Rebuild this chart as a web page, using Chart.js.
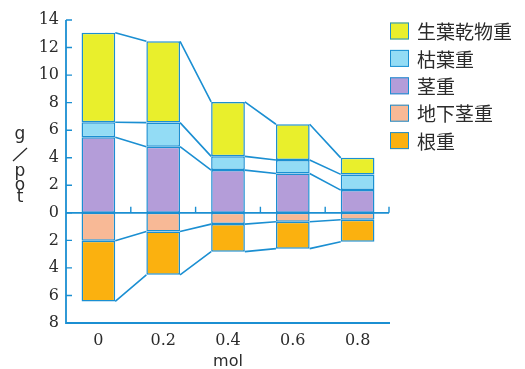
<!DOCTYPE html>
<html>
<head>
<meta charset="utf-8">
<script src="https://cdn.jsdelivr.net/npm/chart.js@4.4.0/dist/chart.umd.min.js"></script>
<style>
  html, body { margin: 0; padding: 0; background: #ffffff; }
  #wrap { width: 525px; height: 369px; position: relative; }
</style>
</head>
<body>
<div id="wrap"><canvas id="c" width="525" height="369"></canvas></div>
<script>
// ---- data ----
const categories = ['0', '0.2', '0.4', '0.6', '0.8'];
const freshLeaf = [6.5, 5.9, 3.95, 2.6, 1.2];      // 生葉乾物重
const deadLeaf  = [1.1, 1.75, 1.0, 0.97, 1.14];    // 枯葉重
const stem      = [5.48, 4.8, 3.1, 2.86, 1.65];    // 茎重
const rhizome   = [-2.03, -1.35, -0.82, -0.65, -0.5]; // 地下茎重
const root      = [-4.4, -3.15, -2.0, -1.95, -1.6];   // 根重
const seriesNames = ['生葉乾物重', '枯葉重', '茎重', '地下茎重', '根重'];
const xTitle = 'mol';
const yTitle = ['g', '/', 'p', 'o', 't'];

const BLUE = '#1b8fd2';
const COLORS = {
  fresh: '#e9ef2c',
  dead: '#93dcf5',
  stem: '#b49dd9',
  rhizome: '#f8b996',
  root: '#fbb10f'
};

function ds(label, data, color) {
  return {
    label, data,
    backgroundColor: color,
    borderColor: BLUE,
    borderWidth: 1.5,
    borderSkipped: false,
    stack: 's',
    barPercentage: 0.52,
    categoryPercentage: 1.0
  };
}

// stacking order: index 0 closest to zero
const datasets = [
  ds(seriesNames[2], stem, COLORS.stem),
  ds(seriesNames[1], deadLeaf, COLORS.dead),
  ds(seriesNames[0], freshLeaf, COLORS.fresh),
  ds(seriesNames[3], rhizome, COLORS.rhizome),
  ds(seriesNames[4], root, COLORS.root)
];
const legendOrder = [2, 1, 0, 3, 4];

const decor = {
  id: 'decor',
  afterDatasetsDraw(chart) {
    const ctx = chart.ctx;
    const xs = chart.scales.x, ys = chart.scales.y;
    const left = xs.left, right = xs.right;
    const yTop = ys.getPixelForValue(14), yBot = ys.getPixelForValue(-8), y0 = ys.getPixelForValue(0);
    ctx.save();
    ctx.strokeStyle = BLUE;
    ctx.lineWidth = 1.6;
    ctx.lineCap = 'butt';
    // connecting lines
    for (let d = 0; d < datasets.length; d++) {
      const els = chart.getDatasetMeta(d).data;
      ctx.beginPath();
      for (let i = 0; i < els.length - 1; i++) {
        const a = els[i], b = els[i + 1];
        ctx.moveTo(a.x + a.width / 2, a.y);
        ctx.lineTo(b.x - b.width / 2, b.y);
      }
      ctx.stroke();
    }
    // axes
    ctx.lineWidth = 1.8;
    ctx.beginPath();
    ctx.moveTo(left, yTop); ctx.lineTo(left, yBot); ctx.lineTo(right, yBot);
    ctx.moveTo(left, y0); ctx.lineTo(right - 1, y0);
    ctx.stroke();
    ctx.lineWidth = 1.4;
    ctx.beginPath();
    for (let v = -8; v <= 14; v += 2) {
      const p = ys.getPixelForValue(v);
      ctx.moveTo(left, p); ctx.lineTo(left + 6, p);
    }
    for (let i = 0; i < categories.length; i++) {
      const px = xs.getPixelForValue(i) + (xs.getPixelForValue(1) - xs.getPixelForValue(0)) / 2;
      ctx.moveTo(Math.min(px, right - 1), y0); ctx.lineTo(Math.min(px, right - 1), y0 - 6);
    }
    ctx.stroke();
    // y title stacked
    ctx.fillStyle = '#2b2b2b';
    ctx.font = '17px "DejaVu Sans"';
    ctx.textAlign = 'center';
    ctx.textBaseline = 'alphabetic';
    const ty = [139, null, 176, 190, 202];
    for (let i = 0; i < yTitle.length; i++) {
      if (yTitle[i] === '/') {
        ctx.strokeStyle = '#2b2b2b';
        ctx.lineWidth = 1.3;
        ctx.beginPath();
        ctx.moveTo(13, 161); ctx.lineTo(27, 148);
        ctx.stroke();
      } else {
        ctx.fillText(yTitle[i], 20, ty[i]);
      }
    }
    // legend
    ctx.font = '19px "Noto Sans CJK JP"';
    ctx.textAlign = 'left';
    ctx.textBaseline = 'middle';
    legendOrder.forEach((di, k) => {
      const cy = 31 + k * 27.4;
      ctx.fillStyle = datasets[di].backgroundColor;
      ctx.fillRect(390, cy - 8.5, 19, 17);
      ctx.strokeStyle = BLUE;
      ctx.lineWidth = 1;
      ctx.strokeRect(390.5, cy - 8, 18, 16);
      ctx.fillStyle = '#2b2b2b';
      ctx.fillText(datasets[di].label, 417, cy + 1);
    });
    ctx.restore();
  }
};

new Chart(document.getElementById('c'), {
  type: 'bar',
  data: { labels: categories, datasets },
  options: {
    responsive: false,
    animation: false,
    devicePixelRatio: 1,
    layout: { padding: { left: 0, top: 20, right: 135, bottom: 0 } },
    plugins: { legend: { display: false }, tooltip: { enabled: false } },
    scales: {
      x: {
        stacked: true,
        grid: { display: false, drawTicks: false },
        border: { display: false },
        ticks: { font: { family: 'DejaVu Serif', size: 16 }, color: '#2b2b2b', padding: 8, maxRotation: 0 },
        title: { display: true, text: xTitle, font: { family: 'DejaVu Sans', size: 16, lineHeight: 0.9 }, color: '#2b2b2b', padding: { top: 0, bottom: 0 } },
        afterFit(s) { s.height = 46; }
      },
      y: {
        stacked: true,
        min: -8, max: 14,
        grid: { display: false, drawTicks: false },
        border: { display: false },
        ticks: {
          stepSize: 2,
          font: { family: 'DejaVu Serif', size: 16 },
          color: '#2b2b2b',
          padding: 7,
          callback: v => String(Math.abs(v))
        },
        afterFit(s) { s.width = 66; }
      }
    }
  },
  plugins: [decor]
});
</script>
</body>
</html>
